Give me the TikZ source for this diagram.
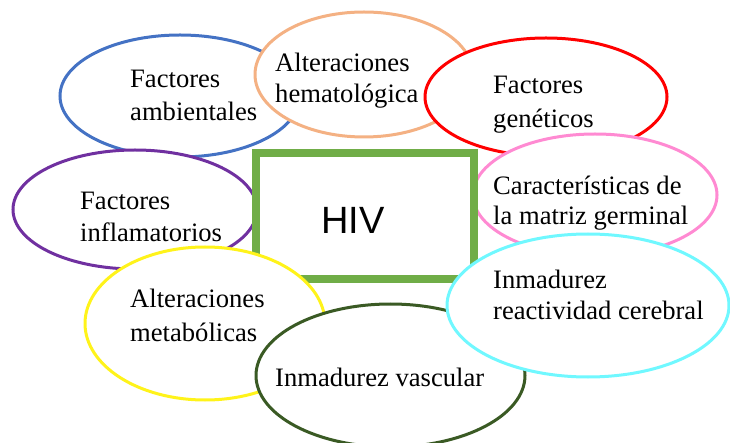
\documentclass[tikz,border=0pt]{standalone}
\usepackage{fontspec}
\setmainfont{Liberation Serif}
\newfontfamily\hivfont{Liberation Sans}
\usetikzlibrary{shapes.geometric}
\definecolor{cBlue}{HTML}{4472C4}
\definecolor{cPeach}{HTML}{F4B183}
\definecolor{cRed}{HTML}{FF0000}
\definecolor{cPurple}{HTML}{7030A0}
\definecolor{cPink}{HTML}{FF8AD2}
\definecolor{cCyan}{HTML}{70F8FF}
\definecolor{cYellow}{HTML}{FFF31A}
\definecolor{cDkGreen}{HTML}{3A5A24}
\definecolor{cGreen}{HTML}{70AD47}
\newcommand\twol[3]{{\fontsize{26.6pt}{#1pt}\selectfont\begin{tabular}[t]{@{}l@{}}#2\\#3\end{tabular}}}
\begin{document}
\begin{tikzpicture}[x=1pt,y=-1pt,
  oval/.style={ellipse, draw, line width=3pt, fill=white, inner sep=0pt},
  lbl/.style={anchor=base west, inner sep=0pt, font=\fontsize{26.6pt}{33pt}\selectfont},
  hivbox/.style={draw=cGreen, line width=8pt, fill=white, inner sep=0pt}]
\useasboundingbox (0,0) rectangle (730,443);
\node[oval, draw=cBlue, minimum width=240pt, minimum height=122pt] (blue) at (180,96) {};
\node[oval, draw=cPeach, minimum width=218pt, minimum height=125pt] (peach) at (364,74.5) {};
\node[oval, draw=cRed, minimum width=242pt, minimum height=118pt] (red) at (546,97) {};
\node[oval, draw=cPurple, minimum width=244pt, minimum height=119pt] (purple) at (135,209.5) {};
\node[oval, draw=cPink, minimum width=244pt, minimum height=122pt] (pink) at (595,195) {};
\node[hivbox, minimum width=218pt, minimum height=125.5pt] (hiv) at (365,216.25) {};
\node[oval, draw=cYellow, minimum width=240pt, minimum height=153pt] (yellow) at (205,323.5) {};
\node[oval, draw=cDkGreen, minimum width=269pt, minimum height=143pt] (dkgreen) at (390.5,375.5) {};
\node[oval, draw=cCyan, minimum width=282pt, minimum height=143pt] (cyan) at (588,305.5) {};

\node[lbl] (tblue) at (130,88) {\twol{33}{Factores}{ambientales}};
\node[lbl] (tpeach) at (275,72) {\twol{30.5}{Alteraciones}{hematológica}};
\node[lbl] (tred) at (493,94) {\twol{33.5}{Factores}{genéticos}};
\node[lbl] (tpurple) at (80,210) {\twol{32}{Factores}{inflamatorios}};
\node[lbl] (tpink) at (493,195) {\twol{30}{Características de}{la matriz germinal}};
\node[lbl] (tcyan) at (493,288.5) {\twol{31}{Inmadurez}{reactividad cerebral}};
\node[lbl] (tyellow) at (130,308) {\twol{33}{Alteraciones}{metabólicas}};
\node[lbl] (tdkgreen) at (275,386.5) {Inmadurez vascular};
\node[anchor=base, inner sep=0pt, font=\hivfont\fontsize{38pt}{44pt}\selectfont] (thiv) at (353,234) {HIV};
\end{tikzpicture}
\end{document}
